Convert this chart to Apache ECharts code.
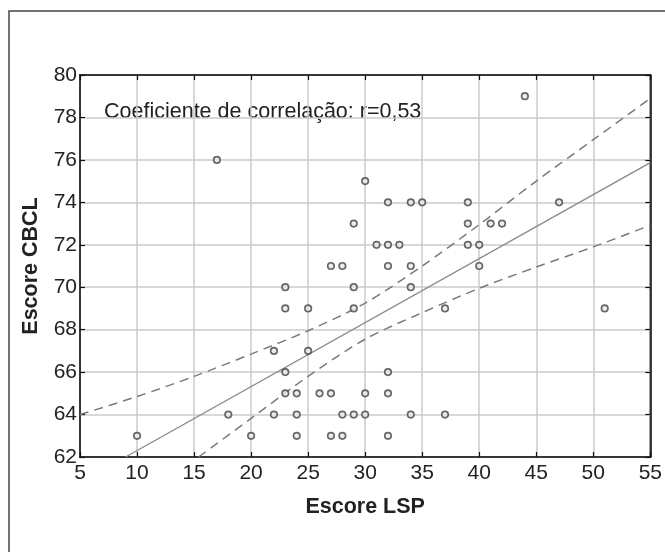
<!DOCTYPE html>
<html>
<head>
<meta charset="utf-8">
<script src="https://cdn.jsdelivr.net/npm/echarts@6/dist/echarts.min.js"></script>
<style>
html,body{margin:0;padding:0;background:#fff;}
#chart{width:665px;height:552px;}
</style>
</head>
<body>
<div id="chart"></div>
<script>
// Scatter data: Escore LSP (x) vs Escore CBCL (y)
const lspScores  = [10,17,18,20,22,22,23,23,23,23,24,24,24,25,25,26,27,27,27,28,28,28,29,29,29,29,30,30,30,31,32,32,32,32,32,32,33,34,34,34,34,35,37,37,39,39,39,40,40,41,42,44,47,51];
const cbclScores = [63,76,64,63,67,64,70,69,66,65,65,64,63,69,67,65,71,65,63,71,64,63,73,70,69,64,75,65,64,72,74,72,71,66,65,63,72,74,71,70,64,74,69,64,74,73,72,72,71,73,73,79,74,69];

// Regression line
const fitX = [9, 55];
const fitY = [62.0, 75.87];

// Confidence bands
const upperX = [5, 10, 15, 20, 25, 30, 35, 40, 45, 50, 55];
const upperY = [64.0, 64.85, 65.8, 66.85, 67.95, 69.25, 71.0, 72.95, 75.0, 76.95, 78.9];
const lowerX = [15.4, 20, 25, 30, 35, 40, 45, 50, 55];
const lowerY = [62.0, 63.82, 65.8, 67.55, 68.8, 69.95, 70.95, 71.9, 72.92];

// Axis settings
const xMin = 5, xMax = 55, xStep = 5;
const yMin = 62, yMax = 80, yStep = 2;
const xTitle = 'Escore LSP';
const yTitle = 'Escore CBCL';
const note = 'Coeficiente de correlação: r=0,53';

const FONT = "'Liberation Sans', Arial, Helvetica, sans-serif";
const pair = (xs, ys) => xs.map((v, i) => [v, ys[i]]);

const chart = echarts.init(document.getElementById('chart'), null, {renderer: 'canvas'});
const tickStyle = {show: true, inside: true, length: 5, lineStyle: {color: '#111', width: 1.2}};
chart.setOption({
  animation: false,
  backgroundColor: '#fff',
  grid: {left: 80, top: 75, right: 12, bottom: 95, show: true, borderColor: '#111', borderWidth: 1.5, backgroundColor: 'transparent'},
  xAxis: [{
    type: 'value', min: xMin, max: xMax, interval: xStep,
    name: xTitle, nameLocation: 'middle', nameGap: 39,
    nameTextStyle: {fontFamily: FONT, fontSize: 21.5, fontWeight: 'bold', color: '#222'},
    axisLine: {show: true, lineStyle: {color: '#111', width: 1.5}},
    axisTick: tickStyle,
    axisLabel: {fontFamily: FONT, fontSize: 21, color: '#222', margin: 6},
    splitLine: {show: true, lineStyle: {color: '#cbcbcb', width: 1.5}}
  }, {
    type: 'value', min: xMin, max: xMax, interval: xStep, position: 'top',
    axisLine: {show: true, lineStyle: {color: '#111', width: 1.5}},
    axisTick: tickStyle, axisLabel: {show: false}, splitLine: {show: false}
  }],
  yAxis: [{
    type: 'value', min: yMin, max: yMax, interval: yStep,
    name: yTitle, nameLocation: 'middle', nameGap: 38,
    nameTextStyle: {fontFamily: FONT, fontSize: 21.5, fontWeight: 'bold', color: '#222'},
    axisLine: {show: true, lineStyle: {color: '#111', width: 1.5}},
    axisTick: tickStyle,
    axisLabel: {fontFamily: FONT, fontSize: 21, color: '#222', margin: 3},
    splitLine: {show: true, lineStyle: {color: '#cbcbcb', width: 1.5}}
  }, {
    type: 'value', min: yMin, max: yMax, interval: yStep, position: 'right',
    axisLine: {show: true, lineStyle: {color: '#111', width: 1.5}},
    axisTick: tickStyle, axisLabel: {show: false}, splitLine: {show: false}
  }],
  graphic: [
    {type: 'rect', shape: {x: 9, y: 11, width: 700, height: 600}, style: {fill: 'none', stroke: '#444', lineWidth: 1.5}, silent: true},
    {type: 'text', left: 104, top: 101, style: {text: note, fontFamily: FONT, fontSize: 21.5, fill: '#222'}}
  ],
  series: [
    {type: 'line', data: pair(upperX, upperY), smooth: 0.3, symbol: 'none', clip: true,
     lineStyle: {color: '#7a7a7a', width: 1.5, type: [9, 6]}},
    {type: 'line', data: pair(lowerX, lowerY), smooth: 0.3, symbol: 'none', clip: true,
     lineStyle: {color: '#7a7a7a', width: 1.5, type: [9, 6]}},
    {type: 'line', data: pair(fitX, fitY), symbol: 'none', clip: true,
     lineStyle: {color: '#8a8a8a', width: 1.4}},
    {type: 'scatter', data: pair(lspScores, cbclScores), symbol: 'circle', symbolSize: 6.5,
     itemStyle: {color: '#e8e8e8', borderColor: '#444', borderWidth: 1.7}, z: 5}
  ]
});
</script>
</body>
</html>
